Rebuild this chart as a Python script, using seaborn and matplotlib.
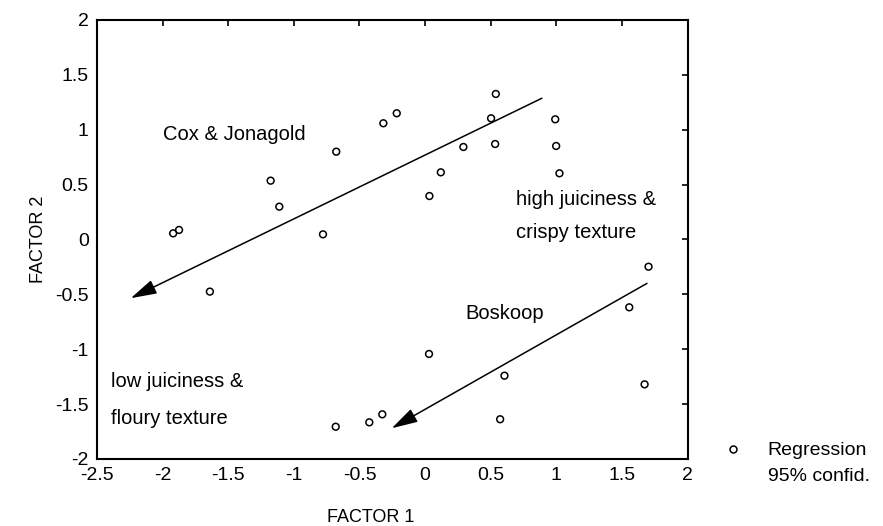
import matplotlib
matplotlib.use("Agg")
import matplotlib.pyplot as plt
from matplotlib.lines import Line2D
import seaborn as sns
import pandas as pd

# Factor scores
factor1 = [-1.92, -1.875, -1.177, -1.111, -0.778, -0.677, -0.318, -0.216, 0.033, 0.12,
           0.292, 0.503, 0.539, 0.534, 0.992, 0.999, 1.024, 1.703, -1.64, 0.03,
           -0.681, -0.425, -0.326, 1.556, 0.605, 1.673, 0.572]
factor2 = [0.056, 0.087, 0.536, 0.299, 0.047, 0.80, 1.059, 1.15, 0.396, 0.612,
           0.843, 1.104, 1.326, 0.87, 1.095, 0.852, 0.603, -0.248, -0.475, -1.043,
           -1.706, -1.666, -1.593, -0.618, -1.241, -1.32, -1.638]

# Regression arrows: (start x, start y) -> (tip x, tip y)
arrow_start_x = [0.89, 1.691]
arrow_start_y = [1.287, -0.40]
arrow_tip_x = [-2.243, -0.254]
arrow_tip_y = [-0.535, -1.72]

xticks = [-2.5, -2, -1.5, -1, -0.5, 0, 0.5, 1, 1.5, 2]
yticks = [-2, -1.5, -1, -0.5, 0, 0.5, 1, 1.5, 2]
tick_labels_x = ["-2.5", "-2", "-1.5", "-1", "-0.5", "0", "0.5", "1", "1.5", "2"]
tick_labels_y = ["-2", "-1.5", "-1", "-0.5", "0", "0.5", "1", "1.5", "2"]

df = pd.DataFrame({"FACTOR 1": factor1, "FACTOR 2": factor2})

sns.set_theme(style="white")
plt.rcParams["font.family"] = ["Liberation Sans", "DejaVu Sans"]
plt.rcParams["text.color"] = "black"
plt.rcParams["axes.labelcolor"] = "black"
plt.rcParams["xtick.color"] = "black"
plt.rcParams["ytick.color"] = "black"

fig = plt.figure(figsize=(8.83, 5.26), dpi=100)
ax = fig.add_axes([0.1099, 0.1274, 0.6687, 0.8346])

sns.scatterplot(data=df, x="FACTOR 1", y="FACTOR 2", ax=ax, marker="o", s=24,
                facecolor="none", edgecolor="black", linewidth=1.1)

for sx, sy, tx, ty in zip(arrow_start_x, arrow_start_y, arrow_tip_x, arrow_tip_y):
    ax.annotate("", xy=(tx, ty), xytext=(sx, sy),
                arrowprops=dict(arrowstyle="-|>,head_length=1.0,head_width=0.28",
                                color="black", lw=1.1, mutation_scale=16,
                                shrinkA=0, shrinkB=0))

fs = 14.5
ax.text(-2.0, 0.96, "Cox & Jonagold", fontsize=fs, va="center")
ax.text(0.694, 0.36, "high juiciness &", fontsize=fs, va="center")
ax.text(0.694, 0.06, "crispy texture", fontsize=fs, va="center")
ax.text(0.305, -0.67, "Boskoop", fontsize=fs, va="center")
ax.text(-2.39, -1.296, "low juiciness &", fontsize=fs, va="center")
ax.text(-2.39, -1.627, "floury texture", fontsize=fs, va="center")

ax.set_xlim(-2.5, 2)
ax.set_ylim(-2, 2)
ax.set_xticks(xticks)
ax.set_xticklabels(tick_labels_x)
ax.set_yticks(yticks)
ax.set_yticklabels(tick_labels_y)
ax.tick_params(axis="both", direction="in", length=4, width=1.2, colors="black",
               labelsize=14, top=True, right=True, pad=6)
for sp in ax.spines.values():
    sp.set_color("black")
    sp.set_linewidth(1.5)

ax.set_xlabel("FACTOR 1", fontsize=13)
ax.set_ylabel("FACTOR 2", fontsize=13)
ax.xaxis.set_label_coords(0.463, -0.115)
ax.yaxis.set_label_coords(-0.085, 0.5)

handles = [Line2D([], [], marker="o", linestyle="none", markerfacecolor="none",
                  markeredgecolor="black", markersize=5, markeredgewidth=1.1),
           Line2D([], [], linestyle="none")]
fig.legend(handles, ["Regression", "95% confid."], loc="upper left",
           bbox_to_anchor=(0.799, 0.175), frameon=False, fontsize=14,
           handletextpad=0.8, labelspacing=0.4, borderaxespad=0)

fig.savefig("out.png", dpi=100)
